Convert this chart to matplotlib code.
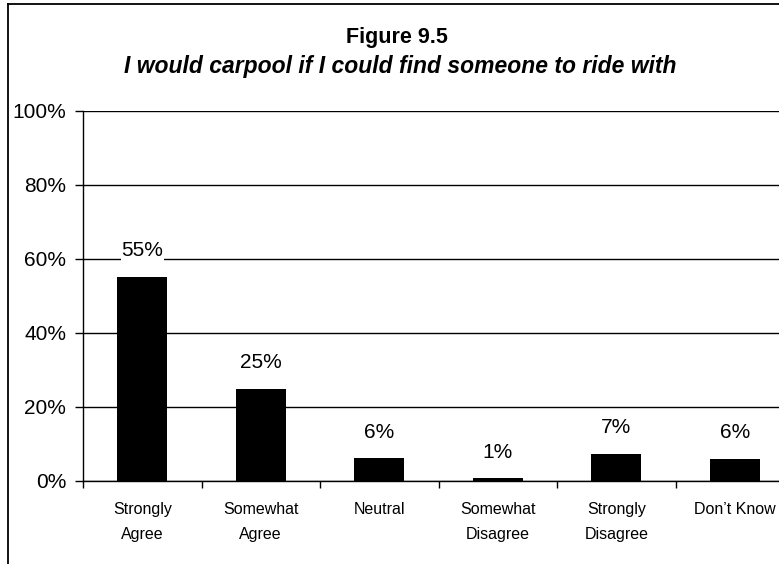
import matplotlib
matplotlib.use("Agg")
import matplotlib.pyplot as plt
from matplotlib.lines import Line2D
import numpy as np

plt.rcParams["font.family"] = ["Liberation Sans", "DejaVu Sans"]

categories = ["Strongly\nAgree", "Somewhat\nAgree", "Neutral",
              "Somewhat\nDisagree", "Strongly\nDisagree", "Don\u2019t Know"]
values = [55.1, 25.0, 6.1, 0.7, 7.2, 6.0]
yticks = [0, 20, 40, 60, 80, 100]

W, H = 779, 564
fig = plt.figure(figsize=(W / 100, H / 100), dpi=100)

# axes extends past the right edge, like the clipped original
left, right, bottom, top = 83, 794, 481, 111
ax = fig.add_axes([left / W, (H - bottom) / H, (right - left) / W, (bottom - top) / H])

x = np.arange(len(values))
ax.bar(x, values, width=0.42, color="black", zorder=3)

for xi, v in zip(x, values):
    ax.annotate(f"{v:.0f}%", (xi, v), xytext=(0, 19), textcoords="offset points",
                ha="center", va="center", fontsize=15, zorder=4,
                bbox=dict(facecolor="white", edgecolor="none", pad=0.5))

ax.set_xlim(-0.5, len(values) - 0.5)
ax.set_ylim(0, 100)
ax.set_yticks(yticks)
ax.set_yticklabels([f"{t}%" for t in yticks], fontsize=15)
ax.yaxis.grid(True, color="black", linewidth=1)
ax.set_axisbelow(True)

ax.set_xticks(np.arange(len(values) + 1) - 0.5)
ax.set_xticklabels([])
ax.set_xticks(x, minor=True)
ax.set_xticklabels(categories, minor=True, fontsize=11.5, linespacing=1.85, va="top")
ax.tick_params(axis="x", which="major", direction="out", length=5, width=1)
ax.tick_params(axis="x", which="minor", length=0, pad=15)
ax.tick_params(axis="y", direction="out", length=6, width=1, pad=6)

for s in ["top", "right"]:
    ax.spines[s].set_visible(False)
ax.spines["left"].set_linewidth(1)
ax.spines["bottom"].set_linewidth(1)

fig.text(397 / W, 1 - 37 / H, "Figure 9.5", ha="center", va="center",
         fontsize=15.5, fontweight="bold")
fig.text(400 / W, 1 - 66 / H, "I would carpool if I could find someone to ride with",
         ha="center", va="center", fontsize=16.5, fontweight="bold", style="italic")

# chart border (only left and top visible in the clipped image)
fig.add_artist(Line2D([7.5 / W, 7.5 / W], [0, 1 - 3.5 / H], color="black", linewidth=1.3))
fig.add_artist(Line2D([7.5 / W, 1], [1 - 3.5 / H, 1 - 3.5 / H], color="black", linewidth=1.3))

fig.savefig("out.png", dpi=100)
